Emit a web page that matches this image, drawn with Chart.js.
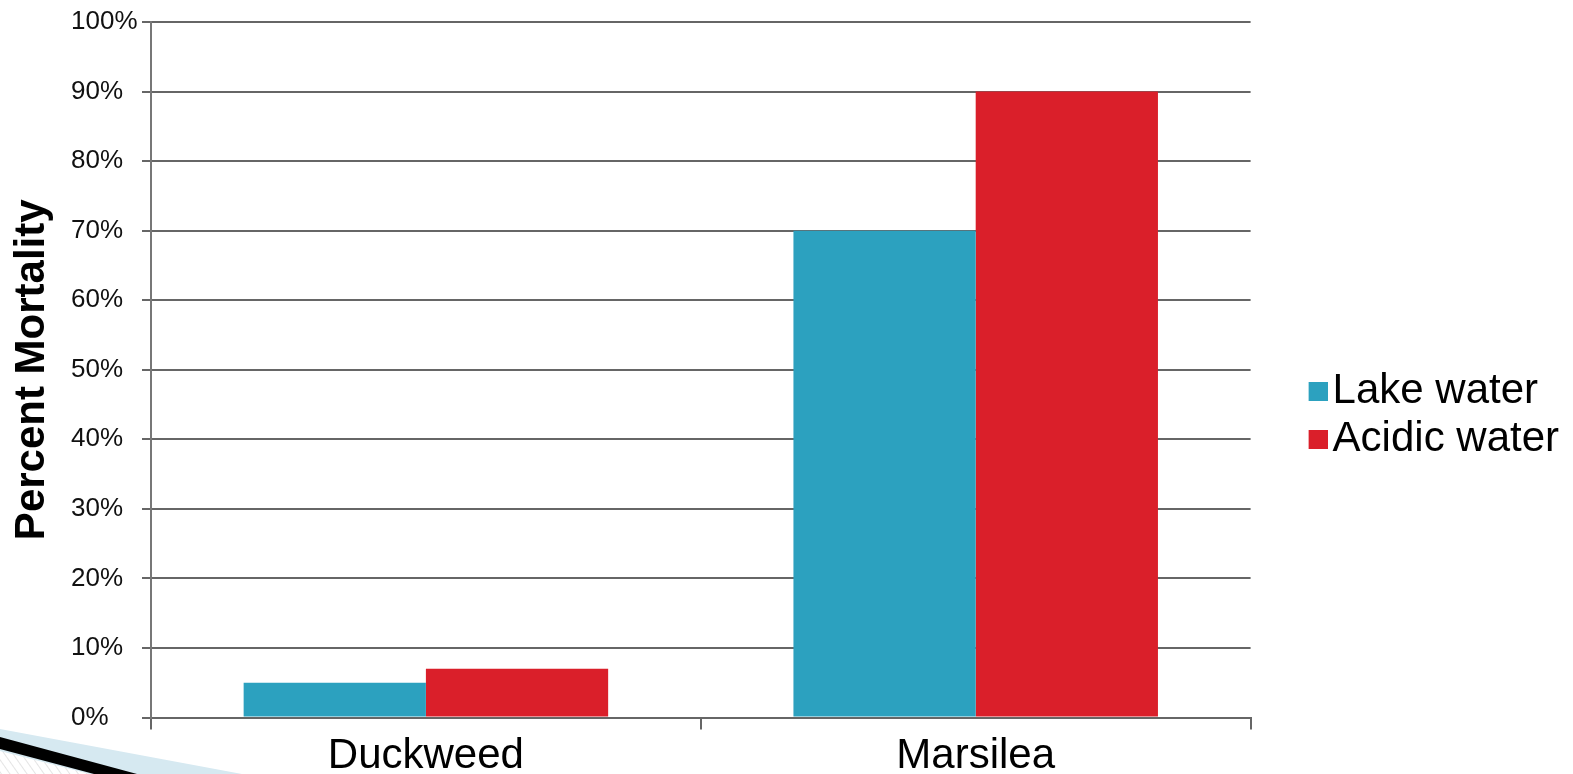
<!DOCTYPE html>
<html>
<head>
<meta charset="utf-8">
<script src="https://cdn.jsdelivr.net/npm/chart.js@4.4.1/dist/chart.umd.min.js"></script>
<style>
  html, body { margin: 0; padding: 0; background: #ffffff; }
  #wrap { position: relative; width: 1573px; height: 774px; overflow: hidden; }
  #deco { position: absolute; left: 0; top: 724px; }
</style>
</head>
<body>
<div id="wrap">
  <canvas id="chart" width="1573" height="774"></canvas>
  <svg id="deco" width="260" height="50" viewBox="0 0 260 50">
    <defs>
      <pattern id="hatch" width="7" height="7" patternUnits="userSpaceOnUse" patternTransform="rotate(-35)">
        <line x1="0" y1="0" x2="0" y2="7" stroke="#c9c9c9" stroke-width="1"/>
      </pattern>
    </defs>
    <polygon points="0,5 242,50 0,50" fill="#d6e9f1"/>
    <polygon points="0,27 90,50 0,50" fill="#ffffff"/>
    <polygon points="0,27 90,50 0,50" fill="url(#hatch)"/>
    <polygon points="0,13 137,50 94,50 0,25" fill="#000000"/>
  </svg>
</div>
<script>
// ---- data ----
const categories = ['Duckweed', 'Marsilea'];
const seriesNames = ['Lake water', 'Acidic water'];
const lakeWater = [5, 70];
const acidicWater = [7, 90];
const yTickLabels = ['0%', '10%', '20%', '30%', '40%', '50%', '60%', '70%', '80%', '90%', '100%'];
const axisTitle = 'Percent Mortality';

// ---- styles ----
const FONT = "'Liberation Sans', Arial, sans-serif";
const colors = ['#2ca1bf', '#da1f2a'];
const gridColor = '#666666';

// legend marker images (square placed close to the text)
const MARK_W = 55;       // pointStyleWidth used by legend layout
const HALF_FONT = 21;    // half of legend font size
const GAP = 5;           // gap square -> text
const SQ = 19;
function makeMark(color) {
  const c = document.createElement('canvas');
  const w = Math.round(2 * (MARK_W / 2 + HALF_FONT - GAP));
  c.width = w; c.height = SQ;
  const g = c.getContext('2d');
  g.fillStyle = color;
  g.fillRect(w - SQ, 0, SQ, SQ);
  return c;
}
const legendMarks = colors.map(makeMark);

new Chart(document.getElementById('chart'), {
  type: 'bar',
  data: {
    labels: categories,
    datasets: [
      { label: seriesNames[0], data: lakeWater, backgroundColor: colors[0], borderWidth: 0,
        categoryPercentage: 0.663, barPercentage: 1.0 },
      { label: seriesNames[1], data: acidicWater, backgroundColor: colors[1], borderWidth: 0,
        categoryPercentage: 0.663, barPercentage: 1.0 }
    ]
  },
  options: {
    responsive: false,
    animation: false,
    devicePixelRatio: 1,
    layout: { padding: { left: 0, top: 22, right: 4, bottom: 0 } },
    scales: {
      x: {
        grid: { display: true, offset: true, drawOnChartArea: false, drawTicks: true,
                tickLength: 12, color: gridColor, lineWidth: 2 },
        border: { display: true, color: gridColor, width: 2 },
        ticks: { font: { family: FONT, size: 42 }, color: '#000000', padding: 2, maxRotation: 0 },
        afterFit: (s) => { s.height = 56.5; }
      },
      y: {
        min: 0, max: 100,
        grid: { color: gridColor, lineWidth: 2, tickLength: 9, drawTicks: true },
        border: { display: true, color: '#777777', width: 2 },
        ticks: {
          stepSize: 10,
          crossAlign: 'far',
          font: { family: FONT, size: 26 },
          color: '#111111',
          callback: (v, i) => yTickLabels[i]
        },
        afterFit: (s) => { s.width = 80; }
      }
    },
    plugins: {
      title: {
        display: true,
        text: axisTitle,
        position: 'left',
        fullSize: false,
        color: '#000000',
        font: { family: FONT, size: 42, weight: 'bold', lineHeight: 1.2 },
        padding: { top: 7, bottom: 13.6 }
      },
      legend: {
        display: true,
        position: 'right',
        align: 'center',
        maxWidth: 420,
        title: { display: true, text: '', font: { size: 20, lineHeight: 1 }, padding: 7 },
        labels: {
          font: { family: FONT, size: 42 },
          color: '#000000',
          padding: 6,
          usePointStyle: true,
          pointStyleWidth: MARK_W,
          generateLabels: (chart) => {
            const items = Chart.defaults.plugins.legend.labels.generateLabels(chart);
            items.forEach((it, i) => { it.pointStyle = legendMarks[i]; it.fontColor = '#000000'; });
            return items;
          }
        }
      },
      tooltip: { enabled: false }
    }
  }
});
</script>
</body>
</html>
